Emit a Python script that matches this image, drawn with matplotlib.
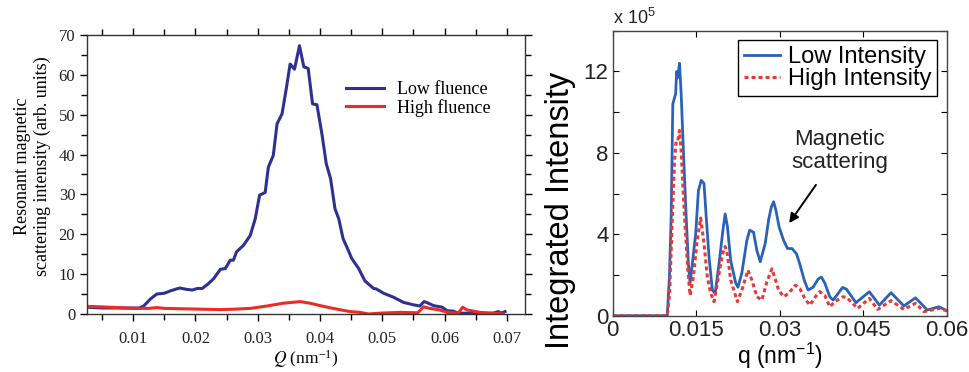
import matplotlib
matplotlib.use("Agg")
import matplotlib.pyplot as plt
from matplotlib.ticker import MultipleLocator

plt.rcParams["mathtext.default"] = "regular"

# Left panel: resonant magnetic scattering vs Q
left_q_low = [0.0026, 0.0050, 0.0080, 0.0110, 0.0117, 0.0128, 0.0138, 0.0150, 0.0160, 0.0170,
              0.0175, 0.0185, 0.0195, 0.0203, 0.0211, 0.0220, 0.0229, 0.0240, 0.0248, 0.0256,
              0.0261, 0.0266, 0.0277, 0.0288, 0.0296, 0.0303, 0.0312, 0.0317, 0.0325, 0.0331,
              0.0339, 0.0346, 0.0352, 0.0359, 0.0367, 0.0374, 0.0381, 0.0388, 0.0395, 0.0403,
              0.0410, 0.0417, 0.0424, 0.0430, 0.0437, 0.0443, 0.0451, 0.0462, 0.0472, 0.0486,
              0.0490, 0.0502, 0.0518, 0.0534, 0.0550, 0.0560, 0.0567, 0.0571, 0.0582, 0.0596,
              0.0604, 0.0614, 0.0622, 0.0635, 0.0657, 0.0678, 0.0686, 0.0691, 0.0697]
left_low = [1.7, 1.5, 1.5, 1.5, 2.0, 3.8, 5.0, 5.2, 5.8, 6.3,
            6.5, 6.2, 6.0, 6.4, 6.4, 7.5, 8.8, 11.2, 11.4, 13.5,
            13.5, 15.6, 17.2, 19.7, 23.9, 29.8, 30.5, 36.8, 39.8, 47.7,
            50.2, 56.7, 62.7, 61.4, 67.3, 62.0, 61.6, 52.7, 52.5, 45.2,
            37.7, 33.9, 26.4, 23.9, 18.9, 16.8, 13.9, 11.4, 8.3, 6.4,
            6.3, 5.2, 4.2, 2.9, 2.3, 2.0, 3.1, 2.9, 2.1, 1.7,
            0.8, 0.7, 0.2, 0.2, 0.0, 0.2, 0.6, 0.2, 0.6]

left_q_high = [0.0026, 0.0047, 0.0075, 0.0100, 0.0125, 0.0138, 0.0150, 0.0180, 0.0210, 0.0240,
               0.0262, 0.0288, 0.0315, 0.0341, 0.0368, 0.0384, 0.0400, 0.0421, 0.0448, 0.0464,
               0.0478, 0.0502, 0.0529, 0.0557, 0.0566, 0.0576, 0.0592, 0.0604, 0.0622, 0.0629,
               0.0636, 0.0657, 0.0678, 0.0694]
left_high = [1.9, 1.8, 1.6, 1.4, 1.4, 1.6, 1.4, 1.3, 1.2, 1.1,
             1.2, 1.4, 2.0, 2.7, 3.1, 2.7, 2.1, 1.4, 0.6, 0.4,
             0.0, 0.25, 0.4, 0.3, 1.8, 1.4, 1.0, 0.4, 0.2, 1.7,
             1.0, 0.4, 0.2, 0.0]

# Right panel: integrated intensity (x 10^5) vs q
right_q_low = [0.0, 0.0098, 0.0102, 0.0105, 0.0108, 0.0113, 0.0115, 0.0117, 0.0120, 0.0123,
               0.0127, 0.0132, 0.0136, 0.0139, 0.0143, 0.0149, 0.0154, 0.0159, 0.0164, 0.0168,
               0.0173, 0.0179, 0.0184, 0.0191, 0.0198, 0.0202, 0.0206, 0.0212, 0.0221, 0.0225,
               0.0232, 0.0241, 0.0246, 0.0253, 0.0259, 0.0265, 0.0274, 0.0280, 0.0285, 0.0289,
               0.0293, 0.0299, 0.0307, 0.0314, 0.0322, 0.0330, 0.0336, 0.0344, 0.0351, 0.0360,
               0.0369, 0.0375, 0.0381, 0.0390, 0.0396, 0.0413, 0.0420, 0.0437, 0.0461, 0.0479,
               0.0500, 0.0523, 0.0544, 0.0565, 0.0586, 0.0600]
right_low = [0.0, 0.0, 2.0, 4.85, 10.4, 10.9, 12.0, 11.7, 12.4, 10.9,
             8.1, 4.85, 2.55, 1.6, 2.55, 4.0, 6.15, 6.65, 6.5, 4.85,
             2.9, 1.26, 1.1, 2.55, 4.2, 5.0, 4.4, 2.7, 1.6, 1.4,
             2.1, 3.7, 4.2, 4.1, 3.2, 2.65, 3.55, 4.7, 5.35, 5.6,
             5.2, 4.35, 3.7, 3.3, 3.3, 3.05, 2.55, 1.75, 1.26, 1.4,
             1.8, 1.9, 1.6, 0.93, 0.77, 1.39, 1.3, 0.64, 1.18, 0.52,
             1.13, 0.48, 0.88, 0.28, 0.44, 0.25]

right_q_high = [0.0, 0.0098, 0.0102, 0.0105, 0.0111, 0.0114, 0.0117, 0.0120, 0.0123, 0.0129,
                0.0135, 0.0139, 0.0145, 0.0151, 0.0158, 0.0164, 0.0170, 0.0176, 0.0182, 0.0188,
                0.0197, 0.0202, 0.0206, 0.0212, 0.0224, 0.0232, 0.0243, 0.0250, 0.0259, 0.0268,
                0.0277, 0.0286, 0.0292, 0.0298, 0.0307, 0.0316, 0.0328, 0.0336, 0.0345, 0.0354,
                0.0366, 0.0372, 0.0381, 0.0390, 0.0399, 0.0413, 0.0420, 0.0440, 0.0461, 0.0476,
                0.0500, 0.0523, 0.0544, 0.0559, 0.0586, 0.0600]
right_high = [0.0, 0.0, 1.0, 3.2, 7.6, 8.6, 8.6, 9.1, 8.1, 4.85,
              2.24, 1.0, 1.9, 3.55, 4.8, 3.55, 1.9, 1.1, 0.69, 1.6,
              3.0, 3.4, 3.0, 1.75, 0.69, 1.26, 2.24, 1.75, 0.93, 0.77,
              1.67, 2.3, 1.8, 1.26, 0.93, 1.1, 1.5, 1.34, 0.85, 0.52,
              1.0, 1.18, 1.0, 0.44, 0.69, 0.93, 0.9, 0.36, 0.85, 0.31,
              0.74, 0.31, 0.61, 0.2, 0.36, 0.25]

fig = plt.figure(figsize=(9.69, 3.72), dpi=100)

# ---- left panel ----
serif = "Liberation Serif"
ax1 = fig.add_axes([0.0898, 0.156, 0.452, 0.750])
ax1.plot(left_q_low, left_low, color="#2e3192", lw=2.2, label="Low fluence")
ax1.plot(left_q_high, left_high, color="#ee2a24", lw=2.2, label="High fluence")
ax1.set_xlim(0.0026, 0.0729)
ax1.set_ylim(0, 70)
ax1.xaxis.set_major_locator(MultipleLocator(0.01))
ax1.xaxis.set_minor_locator(MultipleLocator(0.005))
ax1.yaxis.set_major_locator(MultipleLocator(10))
ax1.yaxis.set_minor_locator(MultipleLocator(5))
ax1.tick_params(which="both", direction="out", top=True, right=True, width=1.0)
ax1.tick_params(which="major", length=5)
ax1.tick_params(which="minor", length=4)
ax1.tick_params(axis="x", pad=7)
ax1.set_xticks([0.01, 0.02, 0.03, 0.04, 0.05, 0.06, 0.07])
ax1.set_xticklabels(["0.01", "0.02", "0.03", "0.04", "0.05", "0.06", "0.07"])
for lab in ax1.get_xticklabels() + ax1.get_yticklabels():
    lab.set_family(serif)
    lab.set_fontsize(12)
    lab.set_color("#222222")
for sp in ax1.spines.values():
    sp.set_linewidth(1.0)
    sp.set_color("#333333")
ax1.set_xlabel(r"$\mathit{Q}$ (nm$^{-1}$)", family=serif, fontsize=12.5,
               math_fontfamily="stix", labelpad=1)
ax1.set_ylabel("Resonant magnetic\nscattering intensity (arb. units)", family=serif,
               fontsize=13)
ax1.yaxis.set_label_coords(-0.083, 0.53)
leg1 = ax1.legend(loc="upper left", bbox_to_anchor=(0.592, 0.835), frameon=False,
                  prop={"family": serif, "size": 13}, handlelength=2.1,
                  handletextpad=0.7, labelspacing=0.05, borderpad=0, borderaxespad=0)

# ---- right panel ----
sans = "Liberation Sans"
ax2 = fig.add_axes([0.6323, 0.1513, 0.3447, 0.7662])
ax2.plot(right_q_low, right_low, color="#2a62b8", lw=2.0, label="Low Intensity")
ax2.plot(right_q_high, right_high, color="#e8383a", lw=2.2, linestyle=(0, (1.3, 1.0)),
         label="High Intensity")
ax2.set_xlim(0, 0.06)
ax2.set_ylim(0, 14)
ax2.set_xticks([0, 0.015, 0.03, 0.045, 0.06])
ax2.set_xticklabels(["0", "0.015", "0.03", "0.045", "0.06"])
ax2.set_yticks([0, 4, 8, 12])
ax2.set_yticklabels(["0", "4", "8", "12"])
ax2.yaxis.set_minor_locator(MultipleLocator(2))
ax2.tick_params(which="both", direction="in", top=True, right=True, length=4, width=0.8)
for lab in ax2.get_xticklabels() + ax2.get_yticklabels():
    lab.set_family(sans)
    lab.set_fontsize(16)
    lab.set_color("#222222")
ax2.tick_params(axis="y", pad=3)
ax2.tick_params(axis="x", pad=3)
for sp in ax2.spines.values():
    sp.set_linewidth(1.0)
    sp.set_color("#444444")
ax2.set_xlabel(r"q (nm$^{-1}$)", family=sans, fontsize=16.5, labelpad=0)
ax2.set_ylabel("Integrated Intensity", family=sans, fontsize=23.5)
ax2.yaxis.set_label_coords(-0.11, 0.37)
ax2.text(0.0, 1.008, r"x 10$^{5}$", transform=ax2.transAxes, family=sans, fontsize=13,
         ha="left", va="bottom", color="#222222")
ax2.annotate("Magnetic\nscattering", xy=(0.0317, 4.55), xytext=(0.0408, 8.1),
             ha="center", va="center", family=sans, fontsize=16, color="#222222",
             linespacing=1.15,
             arrowprops=dict(arrowstyle="-|>", color="black", lw=1.4, mutation_scale=14,
                             shrinkA=8, shrinkB=0))
leg2 = ax2.legend(loc="upper right", prop={"family": sans, "size": 17}, fancybox=False,
                  edgecolor="black", framealpha=1, handlelength=1.5, handletextpad=0.35,
                  labelspacing=0.0, borderpad=0.25, borderaxespad=0.4)
leg2.get_frame().set_linewidth(1.0)

fig.savefig("out.png", dpi=100)
